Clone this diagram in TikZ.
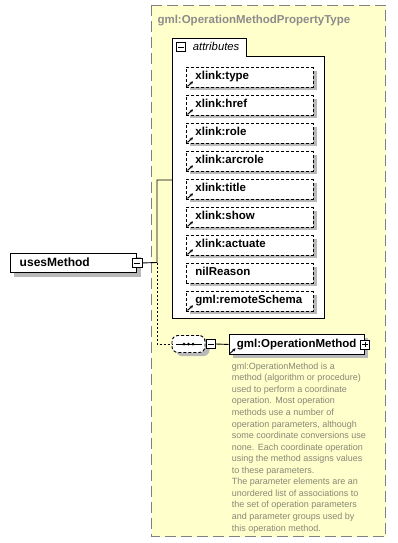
\documentclass[tikz,border=0pt]{standalone}
\usepackage{fontspec}
\setmainfont{Liberation Sans}
\usetikzlibrary{arrows.meta,calc}
\definecolor{bgyellow}{RGB}{255,255,204}
\definecolor{framegray}{RGB}{128,128,128}
\definecolor{titlegray}{RGB}{140,140,140}
\definecolor{descgray}{RGB}{135,135,118}
\definecolor{shadowgray}{RGB}{185,185,185}
\begin{document}
\begin{tikzpicture}[x=1pt,y=-1pt,
  attrbox/.style={draw, dash pattern=on 3pt off 2pt, line width=0.9pt, fill=white,
    anchor=north west, text width=108.5pt, inner xsep=9pt, inner ysep=0pt,
    minimum height=20pt, align=left, font=\fontsize{11.5}{13}\selectfont\bfseries,
    text height=7pt, text depth=3pt},
  elembox/.style={draw, line width=0.9pt, fill=white, anchor=north west,
    inner ysep=0pt, align=left, font=\fontsize{11.5}{13}\selectfont\bfseries},
  pmbox/.style={draw, line width=0.8pt, fill=white, minimum width=9pt, minimum height=9pt, inner sep=0pt},
  conn/.style={line width=0.9pt},
  dconn/.style={line width=0.9pt, dash pattern=on 2pt off 2pt},
  shadowfill/.style={fill=shadowgray, draw=none},
  linkarrow/.style={line width=1pt, -{Stealth[length=3pt,width=3.2pt]}}
]
\useasboundingbox (0,0) rectangle (397,543);

% outer type frame
\draw[framegray, line width=1.3pt, dash pattern=on 11pt off 5pt, fill=bgyellow]
  (151.5,5.5) rectangle (385.5,536.5);
% attributes container
\draw[fill=white, line width=0.9pt] (172.5,38.5) -- (246,38.5) -- (246,56.5) -- (324,56.5)
  -- (324,318) -- (172.5,318) -- cycle;

\node[anchor=base west, inner sep=0pt, font=\fontsize{11.5}{13}\selectfont\bfseries, text=titlegray]
  (title) at (157.3,23.5) {gml:OperationMethodPropertyType};

\coordinate (attrW) at (172.5,180);
\node[pmbox] (tabm) at (181,47) {};
\draw[line width=0.8pt] ($(tabm.west)+(2,0)$) -- ($(tabm.east)+(-2,0)$);
\node[anchor=base west, inner sep=0pt, font=\fontsize{11.3}{13}\selectfont\itshape]
  (attrlbl) at (192.7,51) {attributes};

% shadows of the attribute boxes (drawn first, behind)
\fill[shadowfill] (190,70.5) rectangle (316.5,90);
\fill[shadowfill] (190,98.5) rectangle (316.5,118);
\fill[shadowfill] (190,126.5) rectangle (316.5,146);
\fill[shadowfill] (190,154.5) rectangle (316.5,174);
\fill[shadowfill] (190,182.5) rectangle (316.5,202);
\fill[shadowfill] (190,210.5) rectangle (316.5,230);
\fill[shadowfill] (190,238.5) rectangle (316.5,258);
\fill[shadowfill] (190,266.5) rectangle (316.5,286);
\fill[shadowfill] (190,294.5) rectangle (316.5,314);

\node[attrbox] (a1) at (186,67)  {xlink:type};
\node[attrbox] (a2) at (186,95)  {xlink:href};
\node[attrbox] (a3) at (186,123) {xlink:role};
\node[attrbox] (a4) at (186,151) {xlink:arcrole};
\node[attrbox] (a5) at (186,179) {xlink:title};
\node[attrbox] (a6) at (186,207) {xlink:show};
\node[attrbox] (a7) at (186,235) {xlink:actuate};
\node[attrbox] (a8) at (186,263) {nilReason};
\node[attrbox] (a9) at (186,291) {gml:remoteSchema};
\foreach \i in {1,...,7,9}
  \draw[linkarrow] ($(a\i.south west)+(1.5,-1.5)$) -- ++(5.5,-5);

% shadows of usesMethod, compositor, element
\fill[shadowfill] (14,257) rectangle (140.5,276.5);
\fill[shadowfill, rounded corners=6pt] (176,338.5) rectangle (209.5,356);
\fill[shadowfill] (232.5,337.5) rectangle (368,357.5);

% usesMethod element
\node[elembox, minimum height=19pt, text width=107.4pt, inner xsep=9.3pt,
  font=\fontsize{12}{14}\selectfont\bfseries, text height=8pt, text depth=1pt]
  (um) at (10,253) {usesMethod};
\node[pmbox, minimum width=10pt] (umm) at (um.east) {};
\draw[line width=0.8pt] ($(umm.west)+(2,0)$) -- ($(umm.east)+(-2,0)$);
\coordinate (junc) at (157,262.5);

% sequence compositor
\node[draw, dash pattern=on 3pt off 2pt, line width=0.9pt, fill=white, rounded corners=6pt,
  minimum width=33pt, minimum height=17pt, inner sep=0pt] (comp) at (188.5,344) {};
\draw[line width=1pt] ($(comp.center)+(-12.5,0)$) -- ($(comp.center)+(13,0)$);
\foreach \dx in {-4.5,0,4.5}
  \fill ($(comp.center)+(\dx,0)$) circle (1.5pt);
\node[pmbox] (compm) at ($(comp.east)+(5.5,0)$) {};
\draw[line width=0.8pt] ($(compm.west)+(2,0)$) -- ($(compm.east)+(-2,0)$);

% gml:OperationMethod element
\node[elembox, minimum height=20pt, text width=119.5pt, inner xsep=8pt,
  text height=8pt, text depth=1.5pt] (elem) at (228.5,334) {gml:OperationMethod};
\draw[linkarrow] ($(elem.south west)+(1.5,-1.5)$) -- ++(5.5,-5);
\node[pmbox] (elemp) at (elem.east) {};
\draw[line width=0.8pt] ($(elemp.west)+(2,0)$) -- ($(elemp.east)+(-2,0)$);
\draw[line width=0.8pt] ($(elemp.north)+(0,2)$) -- ($(elemp.south)+(0,-2)$);

% connectors
\draw[conn] (umm.east) -- (junc) |- (attrW);
\draw[dconn] (junc) |- (comp.west);
\draw[conn] (compm.east) -- (elem.west);

% documentation
\node[anchor=north west, inner sep=0pt, text=descgray, align=left,
  font=\fontsize{9}{11.56}\selectfont] (desc) at (231.7,362.5)
  {gml:OperationMethod is a\\
   method (algorithm or procedure)\\
   used to perform a coordinate\\
   operation. Most operation\\
   methods use a number of\\
   operation parameters, although\\
   some coordinate conversions use\\
   none. Each coordinate operation\\
   using the method assigns values\\
   to these parameters.\\
   The parameter elements are an\\
   unordered list of associations to\\
   the set of operation parameters\\
   and parameter groups used by\\
   this operation method.};
\end{tikzpicture}
\end{document}
